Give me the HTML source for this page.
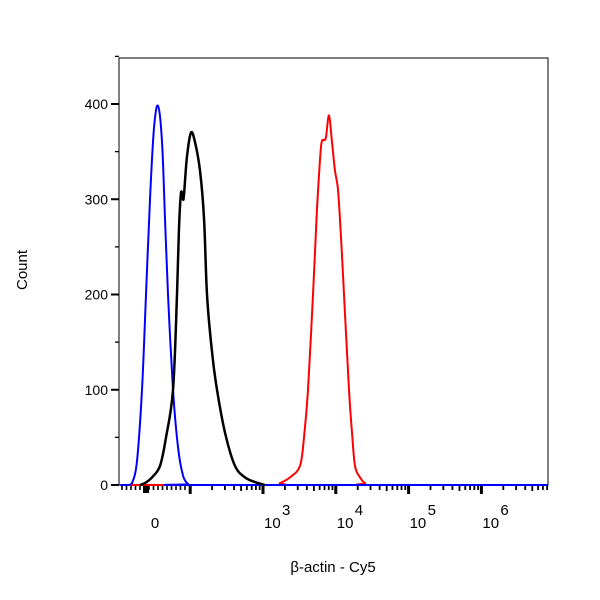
<!DOCTYPE html>
<html><head><meta charset="utf-8"><style>
body{margin:0;background:#fff;}
svg{display:block;font-family:"Liberation Sans",Arial,sans-serif;}
</style></head><body>
<svg id="chart" width="600" height="600" viewBox="0 0 600 600">
<rect x="0" y="0" width="600" height="600" fill="#fff"/>
<g id="plot"></g>
</svg>
<script>
// x values in display decade units (3 = 10^3, 4 = 10^4 ...), y = count
const blueX=[1.04,1.146,1.201,1.269,1.338,1.393,1.448,1.503,1.558,1.613,1.654,1.695,1.764,1.832,1.901,1.970,2.025,6.91];
const blueY=[0,0,2,25,100,200,300,375,398,360,280,200,100,40,10,1,0,0];
const blackX=[1.310,1.379,1.475,1.585,1.668,1.764,1.819,1.846,1.874,1.901,1.915,1.956,2.011,2.066,2.135,2.190,2.231,2.299,2.368,2.478,2.615,2.753,2.890,3.027];
const blackY=[0,2,8,20,50,100,200,270,307,300,305,345,370,360,330,280,200,140,100,55,20,8,3,0];
const redX=[1.04,3.124,3.234,3.371,3.508,3.563,3.618,3.687,3.742,3.797,3.838,3.865,3.907,3.948,3.989,4.030,4.071,4.113,4.181,4.223,4.264,4.332,4.401,4.497,6.91];
const redY=[0,0,2,8,20,50,100,200,290,355,362,365,388,360,330,310,260,200,100,55,20,8,2,0,0];
const yTicks=[0,100,200,300,400];
const yMinor=[50,150,250,350,450];
const xMajor=[2,3,4,5,6];
const xLabels=["10","10","10","10"];
const xSups=["3","4","5","6"];

const L=119,R=548,T=58,B=485;
const X0=263,DEC=72.8;
function sx(u){return X0+(u-3)*DEC;}
function sy(c){return B-c*0.9525;}
const NS="http://www.w3.org/2000/svg";
const g=document.getElementById('plot');
function mk(tag,attrs,parent){const e=document.createElementNS(NS,tag);for(const k in attrs)e.setAttribute(k,attrs[k]);(parent||g).appendChild(e);return e;}

const frame=mk('rect',{x:L,y:T,width:R-L,height:B-T,fill:'none',stroke:'#000','stroke-width':1});



yTicks.forEach(v=>{
  const t=mk('line',{x1:L-8,x2:L,y1:sy(v),y2:sy(v),stroke:'#000','stroke-width':2});
  
  
  const lb=mk('text',{x:L-11,y:sy(v)+5,'text-anchor':'end','font-size':14,fill:'#000'});
  lb.textContent=v;
  
  
});
yMinor.forEach(v=>{
  const t=mk('line',{x1:L-4,x2:L,y1:sy(v),y2:sy(v),stroke:'#000','stroke-width':1.3});
  
  
});

for(let d=2;d<7;d++){
  for(let m=2;m<10;m++){
    const u=d+Math.log10(m);
    if(sx(u)>R) continue;
    const t=mk('line',{x1:sx(u),x2:sx(u),y1:B,y2:B+(m===5?6:5),stroke:'#000','stroke-width':1.8});
    
    
  }
}
for(let x=122;x<186;x+=4.5){
  const t=mk('line',{x1:x,x2:x,y1:B,y2:B+5,stroke:'#000','stroke-width':1.6});
  
  
}
const blob=mk('rect',{x:143,y:B,width:6,height:8,fill:'#000'});


xMajor.forEach(u=>{
  const t=mk('line',{x1:sx(u),x2:sx(u),y1:B,y2:B+9,stroke:'#000','stroke-width':3});
  
  
});
const z=mk('text',{x:155,y:528,'text-anchor':'middle','font-size':15,fill:'#000'});
z.textContent='0';


xLabels.forEach((s,i)=>{
  const u=xMajor[i+1];
  const t=mk('text',{x:sx(u)+1,y:528,'text-anchor':'start','font-size':15,fill:'#000'});
  t.textContent=s;
  
  
  const sp=mk('text',{x:sx(u)+19,y:515,'text-anchor':'start','font-size':15,fill:'#000'});
  sp.textContent=xSups[i];
  
  
});

function series(xs,ys,color,name,w){
  const P=xs.map((u,i)=>[sx(u),sy(ys[i])]);
  let d='M'+P[0][0].toFixed(1)+','+P[0][1].toFixed(1);
  for(let i=0;i<P.length-1;i++){
    const p0=P[Math.max(0,i-1)],p1=P[i],p2=P[i+1],p3=P[Math.min(P.length-1,i+2)];
    const c1=[p1[0]+(p2[0]-p0[0])/6,p1[1]+(p2[1]-p0[1])/6];
    const c2=[p2[0]-(p3[0]-p1[0])/6,p2[1]-(p3[1]-p1[1])/6];
    c1[1]=Math.min(c1[1],B);c2[1]=Math.min(c2[1],B);
    d+='C'+c1[0].toFixed(1)+','+c1[1].toFixed(1)+' '+c2[0].toFixed(1)+','+c2[1].toFixed(1)+' '+p2[0].toFixed(1)+','+p2[1].toFixed(1);
  }
  const p=mk('path',{d:d,fill:'none',stroke:color,'stroke-width':w,'stroke-linejoin':'round'});
  
  
}
series(redX,redY,'#ff0000','red-histogram',2);
series(blueX,blueY,'#0000ff','blue-histogram',2);
series(blackX,blackY,'#000000','black-histogram',2.5);

const yt=mk('text',{x:0,y:0,'text-anchor':'middle','font-size':15,fill:'#000',transform:'translate(27,270) rotate(-90)'});
yt.textContent='Count';


const xt=mk('text',{x:333,y:572,'text-anchor':'middle','font-size':15,fill:'#000'});
xt.textContent='β-actin - Cy5';


</script>
</body></html>
